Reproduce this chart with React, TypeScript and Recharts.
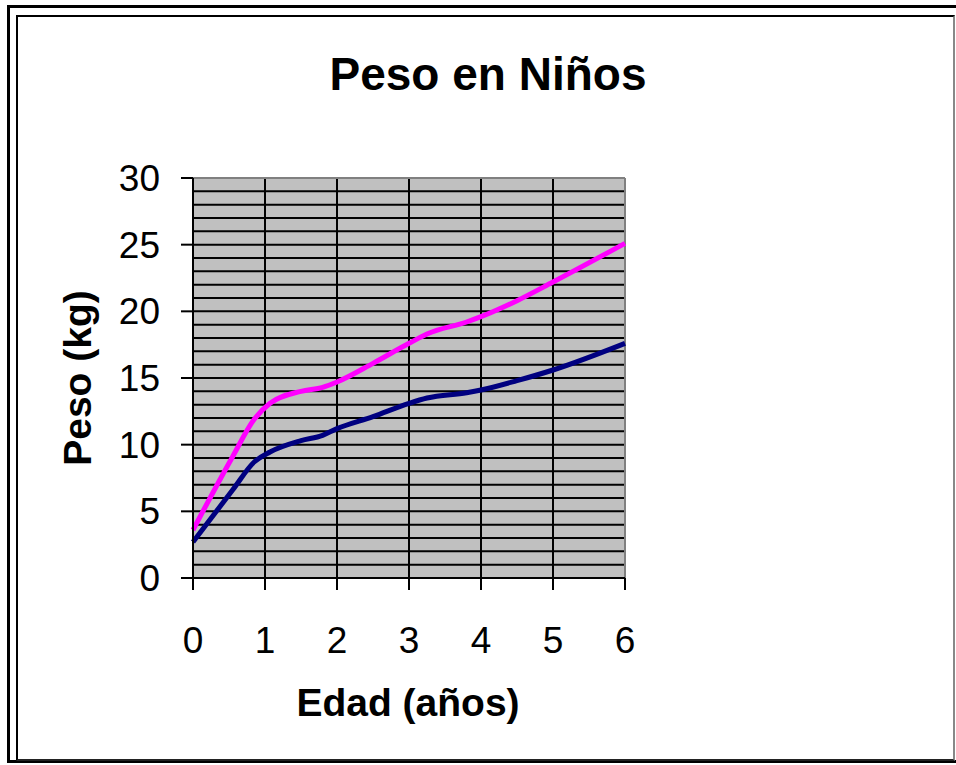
import { CartesianGrid, Line, LineChart, ReferenceLine, XAxis, YAxis } from "recharts";

// edad en años
const ages = [0, 0.55, 0.85, 1.07, 1.5, 1.8, 2, 2.5, 3, 3.25, 3.8, 4, 4.5, 5, 6];
const pesoRosa = [3.6, 9.1, 11.9, 13.1, 14.0, 14.3, 14.7, 16.1, 17.6, 18.3, 19.2, 19.6, 20.8, 22.2, 25.1];
const pesoAzul = [2.7, 6.6, 8.7, 9.45, 10.3, 10.7, 11.2, 12.1, 13.1, 13.5, 13.9, 14.1, 14.8, 15.6, 17.6];

const xTicks = [0, 1, 2, 3, 4, 5, 6];
const yTicks = [0, 5, 10, 15, 20, 25, 30];
const yGrid = [
  0, 1, 2, 3, 4, 5, 6, 7, 8, 9, 10, 11, 12, 13, 14, 15,
  16, 17, 18, 19, 20, 21, 22, 23, 24, 25, 26, 27, 28, 29, 30
];

const data = ages.map((edad, i) => ({ edad, rosa: pesoRosa[i], azul: pesoAzul[i] }));

const font = "Arial, 'Liberation Sans', sans-serif";
const tickStyle = { fill: "#000", fontSize: 37, fontFamily: font };

export default function App() {
  return (
    <div style={{ position: "absolute", left: 0, top: 0, width: 956, height: 765, overflow: "hidden", background: "#fff" }}>
      <div style={{ position: "absolute", left: 7, top: 5, width: 980, height: 752, border: "3px solid #000" }} />
      <div
        style={{
          position: "absolute",
          left: 16,
          top: 15,
          width: 935,
          height: 742,
          borderTop: "2px solid #000",
          borderLeft: "2px solid #000",
          borderBottom: "2px solid #222",
          borderRight: "2px solid #888"
        }}
      />
      <div
        style={{
          position: "absolute",
          left: 0,
          top: 0,
          width: 956,
          textAlign: "center",
          paddingLeft: 10,
          lineHeight: "46px",
          marginTop: 51,
          fontFamily: font,
          fontWeight: "bold",
          fontSize: 46
        }}
      >
        Peso en Niños
      </div>
      <div style={{ position: "absolute", left: 0, top: 0 }}>
        <LineChart
          width={956}
          height={765}
          data={data}
          margin={{ top: 178, right: 331, bottom: 127, left: 133 }}
        >
          <CartesianGrid
            fill="#c0c0c0"
            stroke="#000"
            strokeWidth={2}
            horizontalValues={yGrid}
            verticalValues={xTicks}
          />
          <XAxis
            dataKey="edad"
            type="number"
            domain={[0, 6]}
            ticks={xTicks}
            height={60}
            tickSize={12}
            tickMargin={37}
            tick={tickStyle}
            axisLine={{ stroke: "#000", strokeWidth: 2 }}
            tickLine={{ stroke: "#000", strokeWidth: 2 }}
            interval={0}
          />
          <YAxis
            type="number"
            domain={[0, 30]}
            ticks={yTicks}
            width={60}
            tickSize={12}
            tickMargin={21}
            tick={tickStyle}
            axisLine={{ stroke: "#000", strokeWidth: 2 }}
            tickLine={{ stroke: "#000", strokeWidth: 2 }}
            interval={0}
          />
          <ReferenceLine y={30} stroke="#808080" strokeWidth={2} />
          <ReferenceLine x={6} stroke="#808080" strokeWidth={2} />
          <Line
            type="monotone"
            dataKey="azul"
            stroke="#000080"
            strokeWidth={5}
            dot={false}
            isAnimationActive={false}
          />
          <Line
            type="monotone"
            dataKey="rosa"
            stroke="#ff00ff"
            strokeWidth={5}
            dot={false}
            isAnimationActive={false}
          />
        </LineChart>
      </div>
      <div
        style={{
          position: "absolute",
          left: 208,
          width: 400,
          top: 683,
          textAlign: "center",
          lineHeight: "39px",
          fontFamily: font,
          fontWeight: "bold",
          fontSize: 39
        }}
      >
        Edad (años)
      </div>
      <div
        style={{
          position: "absolute",
          left: 77,
          top: 378,
          transform: "translate(-50%, -50%) rotate(-90deg)",
          whiteSpace: "nowrap",
          lineHeight: "39px",
          fontFamily: font,
          fontWeight: "bold",
          fontSize: 39
        }}
      >
        Peso (kg)
      </div>
    </div>
  );
}
